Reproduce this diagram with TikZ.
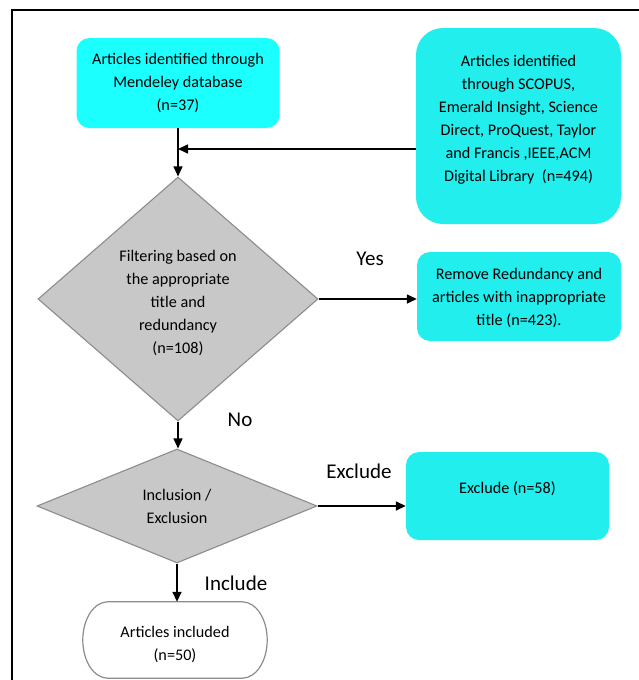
\documentclass[tikz,border=0pt]{standalone}
\usepackage{fontspec}
\setmainfont{Carlito}
\usetikzlibrary{shapes.geometric,arrows.meta,calc}
\definecolor{cyanA}{RGB}{28,255,255}
\definecolor{cyanB}{RGB}{34,238,238}
\definecolor{diafill}{RGB}{200,200,200}
\definecolor{diadraw}{RGB}{140,140,140}
\tikzset{
  boxfont/.style={font=\fontsize{16.2}{23}\selectfont},
  lblfont/.style={font=\fontsize{21}{25}\selectfont},
  cbox/.style={draw=none, rounded corners=13pt, align=center, boxfont, inner sep=0pt},
  txt/.style={boxfont, align=center, inner sep=0pt},
  dia/.style={diamond, fill=diafill, draw=diadraw, line width=1.1pt, align=center, boxfont, inner sep=0pt},
  termline/.style={draw=diadraw, fill=white, line width=1.2pt},
  arr/.style={-{Triangle[length=10pt,width=9pt]}, line width=1.5pt, black},
  lbl/.style={lblfont, inner sep=0pt}
}
\begin{document}
\begin{tikzpicture}[x=1pt,y=-1pt]
\useasboundingbox (0,0) rectangle (638,680);
\draw[line width=1.5pt] (12,690) -- (12,10) -- (650,10);

\node[cbox, fill=cyanA, minimum width=203pt, minimum height=90pt] (m) at (178,83)
  {Articles identified through\\Mendeley database\\(n=37)};
\node[cbox, fill=cyanB, rounded corners=27pt, minimum width=205pt, minimum height=196pt] (r) at (518.5,126) {};
\node[txt] (rt) at (518.5,120)
  {Articles identified\\through SCOPUS,\\Emerald Insight, Science\\Direct, ProQuest, Taylor\\and Francis ,IEEE,ACM\\Digital Library~ (n=494)};
\coordinate (j) at (178,149);

\node[dia, minimum width=280pt, minimum height=244pt] (d1) at (178,299) {};
\node[txt] (d1t) at (178,303)
  {Filtering based on\\the appropriate\\title and\\redundancy\\(n=108)};
\node[cbox, fill=cyanB, minimum width=204pt, minimum height=89pt] (rm) at (519,296.5) {};
\node[txt] (rmt) at (519,298)
  {Remove Redundancy and\\articles with inappropriate\\title (n=423).};

\node[dia, minimum width=280pt, minimum height=114pt] (d2) at (177,506)
  {Inclusion /\\Exclusion};
\node[cbox, fill=cyanB, minimum width=203pt, minimum height=88pt] (ex) at (507.5,496) {};
\node[txt] (ext) at (507.5,489) {Exclude (n=58)};

\node[inner sep=0pt, minimum width=184pt, minimum height=76pt] (t) at (175,640) {};
\draw[termline]
  ($(t.north west)+(25,0)$) -- ($(t.north east)+(-25,0)$)
  .. controls ($(t.north east)+(-11,0)$) and ($(t.east)+(0,-21)$) .. (t.east)
  .. controls ($(t.east)+(0,21)$) and ($(t.south east)+(-11,0)$) .. ($(t.south east)+(-25,0)$)
  -- ($(t.south west)+(25,0)$)
  .. controls ($(t.south west)+(11,0)$) and ($(t.west)+(0,21)$) .. (t.west)
  .. controls ($(t.west)+(0,-21)$) and ($(t.north west)+(11,0)$) .. ($(t.north west)+(25,0)$)
  -- cycle;
\node[txt] (tt) at (175,644) {Articles included\\(n=50)};

\draw[arr] (m.south) -- (d1.north);
\draw[arr] (r.west |- j) -- (j);
\draw[arr] (d1.east) -- (rm.west |- d1.east);
\draw[arr] (d1.south) -- (d1.south |- d2.north);
\draw[arr] (d2.east) -- (ex.west |- d2.east);
\draw[arr] (d2.south) -- (d2.south |- t.north);

\node[lbl] (yes) at (370,259) {Yes};
\node[lbl] (no) at (240,420) {No};
\node[lbl] (exl) at (359,471) {Exclude};
\node[lbl] (inl) at (236,583) {Include};
\end{tikzpicture}
\end{document}
